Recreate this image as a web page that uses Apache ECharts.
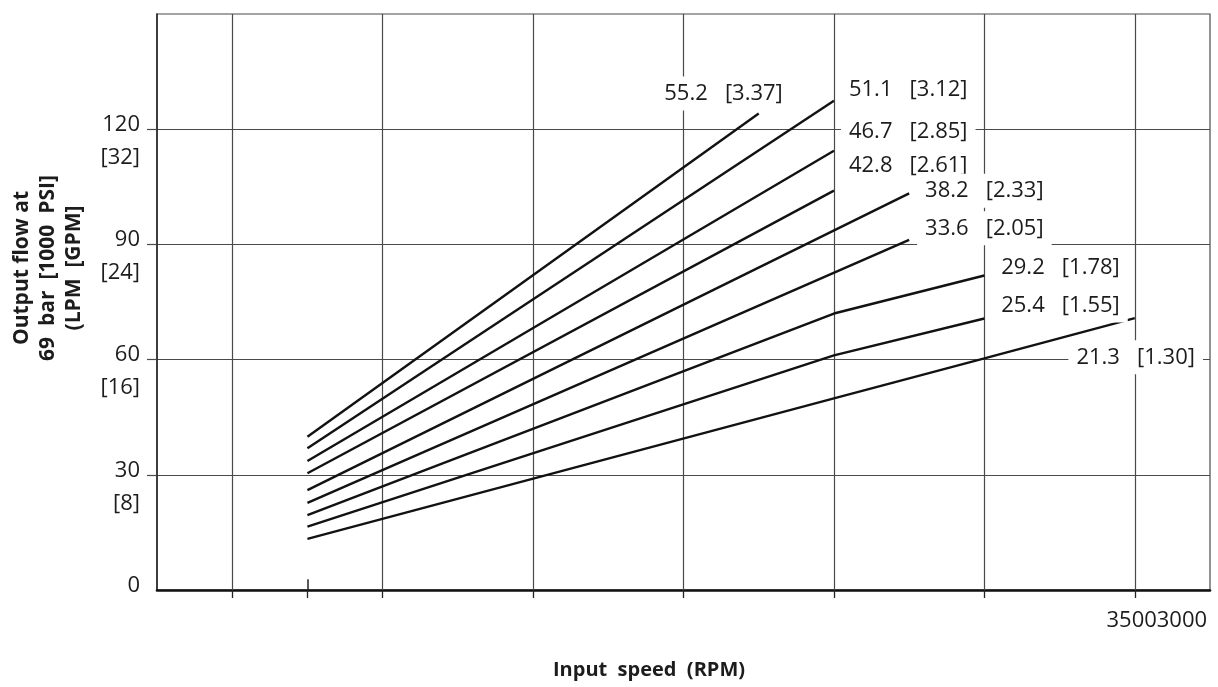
<!DOCTYPE html>
<html>
<head>
<meta charset="utf-8">
<script src="https://cdn.jsdelivr.net/npm/echarts@6/dist/echarts.min.js"></script>
<style>
  html, body { margin: 0; padding: 0; background: #fff; }
  #chart { width: 1218px; height: 687px; }
</style>
</head>
<body>
<div id="chart"></div>
<script>
// flow curves, [rpm, LPM]
const flow552 = [[750, 39.9], [2250, 124.1]];
const flow511 = [[750, 36.9], [2500, 127.4]];
const flow467 = [[750, 33.6], [2500, 114.4]];
const flow428 = [[750, 30.4], [2500, 104.0]];
const flow382 = [[750, 26.0], [2750, 103.3]];
const flow336 = [[750, 22.7], [2750, 91.2]];
const flow292 = [[750, 19.5], [2500, 72.0], [3000, 81.9]];
const flow254 = [[750, 16.5], [2500, 61.1], [3000, 70.7]];
const flow213 = [[750, 13.3], [2500, 49.9], [3000, 60.3], [3500, 70.8]];

const curves = [flow552, flow511, flow467, flow428, flow382, flow336, flow292, flow254, flow213];

// displacement labels cc [in3] and where they sit (rpm, LPM)
const labelText = ['55.2   [3.37]', '51.1   [3.12]', '46.7   [2.85]', '42.8   [2.61]',
  '38.2   [2.33]', '33.6   [2.05]', '29.2   [1.78]', '25.4   [1.55]', '21.3   [1.30]'];
const labelAt = [[2133, 129.3], [2747, 130.3], [2747, 119.4], [2747, 110.5],
  [3000, 104.0], [3000, 94.2], [3253, 83.8], [3253, 74.1], [3503, 60.6]];

const yTicks = [0, 30, 60, 90, 120];
const yTicksGpm = ['', '[8]', '[16]', '[24]', '[32]'];
const xGrid = [500, 1000, 1500, 2000, 2500, 3000, 3500];
const xTicks = [500, 750, 1000, 1500, 2000, 2500, 3000, 3500];
const xTickText = '35003000';

const gridColor = '#4a4a4a';
const textColor = '#1c1c1c';
const font = 'Open Sans';

const chart = echarts.init(document.getElementById('chart'));

const series = curves.map(c => ({
  type: 'line',
  data: c,
  showSymbol: false,
  symbol: 'none',
  z: 3,
  lineStyle: { color: '#121212', width: 2.4 }
}));

// vertical grid lines + short inner tick at 750
series[0].markLine = {
  silent: true,
  z: 1,
  symbol: 'none',
  label: { show: false },
  lineStyle: { color: gridColor, width: 1.2, type: 'solid' },
  data: xGrid.map(v => ({ xAxis: v })).concat([[
    { coord: [750, 0], lineStyle: { color: '#222', width: 1.5 } },
    { coord: [750, 2.8] }
  ]])
};

series.push({
  type: 'scatter',
  symbolSize: 0,
  z: 10,
  silent: true,
  itemStyle: { opacity: 1 },
  data: labelAt.map((p, i) => ({ value: p, name: labelText[i] })),
  label: {
    show: true,
    position: 'inside',
    formatter: p => p.name,
    fontFamily: font,
    fontSize: 22,
    color: textColor,
    opacity: 1,
    backgroundColor: '#fff',
    padding: [6, 8]
  }
});

chart.setOption({
  animation: false,
  backgroundColor: '#fff',
  grid: {
    left: 157, right: 8, top: 14, bottom: 97,
    show: true, borderColor: gridColor, borderWidth: 1.2
  },
  xAxis: {
    type: 'value',
    min: 250,
    max: 3750,
    interval: 250,
    axisLine: { lineStyle: { color: '#111', width: 2.6 } },
    axisTick: { customValues: xTicks, length: 8, lineStyle: { color: '#222', width: 1.3 } },
    splitLine: { show: false },
    axisLabel: {
      customValues: [3500],
      formatter: v => (v === 3500 ? xTickText : ''),
      margin: 20,
      padding: [0, 0, 0, 44],
      fontFamily: font,
      fontSize: 22,
      color: textColor
    }
  },
  yAxis: {
    type: 'value',
    min: 0,
    max: 150,
    interval: 30,
    axisLine: { show: true, lineStyle: { color: '#222', width: 1.5 } },
    axisTick: { show: true, customValues: [30, 60, 90, 120], length: 10, lineStyle: { color: gridColor, width: 1.2 } },
    splitLine: { show: true, lineStyle: { color: gridColor, width: 1.2 } },
    axisLabel: {
      customValues: yTicks,
      formatter: v => {
        const i = yTicks.indexOf(v);
        if (i < 0) return '';
        return '{s| }\n{a|' + v + '}\n{a|' + (yTicksGpm[i] || ' ') + '}';
      },
      margin: 17,
      rich: {
        s: { lineHeight: 24, fontSize: 2 },
        a: { lineHeight: 33, fontSize: 22, fontFamily: font, color: textColor }
      }
    }
  },
  graphic: [
    {
      type: 'text',
      x: 48,
      y: 268,
      rotation: Math.PI / 2,
      style: {
        text: 'Output flow at\n69  bar  [1000  PSI]\n(LPM  [GPM]',
        align: 'center',
        verticalAlign: 'middle',
        lineHeight: 26,
        fontFamily: font,
        fontWeight: 'bold',
        fontSize: 21,
        fill: textColor
      }
    },
    {
      type: 'text',
      x: 649,
      y: 670,
      style: {
        text: 'Input  speed  (RPM)',
        align: 'center',
        verticalAlign: 'middle',
        fontFamily: font,
        fontWeight: 'bold',
        fontSize: 20,
        fill: textColor
      }
    }
  ],
  series: series
});
</script>
</body>
</html>
